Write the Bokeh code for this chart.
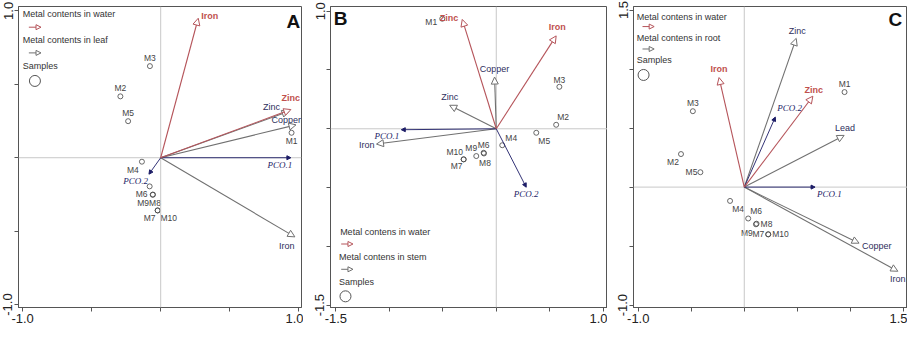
from bokeh.plotting import figure
from bokeh.models import Arrow, NormalHead, ColumnDataSource, Span, FixedTicker, Label
from bokeh.layouts import row
from bokeh.embed import file_html
from bokeh.resources import INLINE
from bokeh.core.properties import value, field

# ------------------------- DATA -------------------------
SAMPLES = ["M1", "M2", "M3", "M4", "M5", "M6", "M7", "M8", "M9", "M10"]
PCO_NAMES = ["PCO.1", "PCO.2"]

# Panel A: water vs leaf
A_WATER_NAMES = ["Iron", "Zinc"]
A_WATER_X = [0.272, 0.943]
A_WATER_Y = [0.95, 0.328]
A_ORGAN_NAMES = ["Zinc", "Copper", "Iron"]
A_ORGAN_X = [0.93, 0.98, 0.972]
A_ORGAN_Y = [0.316, 0.224, -0.539]
A_PCO_X = [0.943, -0.085]
A_PCO_Y = [0.0, -0.112]
A_SAMPLE_X = [0.948, -0.292, -0.078, -0.136, -0.236, -0.08, -0.022, -0.056, -0.058, -0.022]
A_SAMPLE_Y = [0.17, 0.418, 0.624, -0.027, 0.249, -0.195, -0.359, -0.251, -0.252, -0.359]

# Panel B: water vs stem
B_WATER_NAMES = ["Zinc", "Iron"]
B_WATER_X = [-0.318, 0.56]
B_WATER_Y = [0.93, 0.79]
B_ORGAN_NAMES = ["Copper", "Zinc", "Iron"]
B_ORGAN_X = [-0.016, -0.436, -1.12]
B_ORGAN_Y = [0.44, 0.20, -0.13]
B_PCO_X = [-0.888, 0.28]
B_PCO_Y = [-0.008, -0.497]
B_SAMPLE_X = [-0.505, 0.56, 0.59, 0.056, 0.374, -0.118, -0.305, -0.115, -0.187, -0.305]
B_SAMPLE_Y = [0.936, 0.034, 0.357, -0.14, -0.034, -0.204, -0.26, -0.21, -0.232, -0.26]

# Panel C: water vs root
C_WATER_NAMES = ["Iron", "Zinc"]
C_WATER_X = [-0.238, 0.647]
C_WATER_Y = [0.928, 0.77]
C_ORGAN_NAMES = ["Zinc", "Lead", "Copper", "Iron"]
C_ORGAN_X = [0.49, 0.942, 1.083, 1.449]
C_ORGAN_Y = [1.26, 0.438, -0.475, -0.713]
C_PCO_X = [0.668, 0.293]
C_PCO_Y = [0.0, 0.593]
C_SAMPLE_X = [0.946, -0.597, -0.485, -0.134, -0.414, 0.037, 0.226, 0.116, 0.11, 0.226]
C_SAMPLE_Y = [0.805, 0.28, 0.643, -0.117, 0.126, -0.266, -0.40, -0.31, -0.315, -0.40]

# ------------------------- STYLE -------------------------
RED = "#b5545a"
RED_TXT = "#c0504d"
GRAY = "#707070"
NAVY = "#1c1c66"
ORG_TXT = "#2e2e5c"
SMP_TXT = "#444444"
FONT = "Liberation Sans"
SERIF = "Liberation Serif"
LBL_SIZE = "9px"

# label offsets (screen px dx, dy; alignment)
A_WATER_LBL = [(3, -2, "left"), (0, -12, "center")]
A_ORGAN_LBL = [(-9, -4, "right"), (5, -5, "right"), (-8, 9, "center")]
A_PCO_LBL = [(-11, 7, "center"), (-1, 7, "right")]
A_SAMPLE_LBL = [(0, 8, "center"), (0, -8, "center"), (0, -8, "center"), (-9, 8, "center"),
                (0, -8, "center"), (-8, 8, "center"), (-8, 8, "center"), (2, 8, "center"),
                (-9.5, 8, "center"), (11, 8, "center")]

B_WATER_LBL = [(-4, -1, "right"), (1, -9, "center")]
B_ORGAN_LBL = [(0, -8, "center"), (0, -8, "center"), (-2, 1, "right")]
B_PCO_LBL = [(-2, 6, "right"), (0, 7, "center")]
B_SAMPLE_LBL = [(-11, 3, "center"), (7, -8, "center"), (0, -7, "center"), (9, -7, "center"),
                (8, 8, "center"), (0, -8, "center"), (-7, 7, "center"), (1, 10, "center"),
                (-5, -8, "center"), (-9, -7, "center")]

C_WATER_LBL = [(0, -9, "center"), (1, -6, "center")]
C_ORGAN_LBL = [(1, -7, "center"), (1, -7, "center"), (3, 3, "left"), (0, 8, "center")]
C_PCO_LBL = [(2, 7, "left"), (2, -9, "left")]
C_SAMPLE_LBL = [(0, -8, "center"), (-8, 8, "center"), (0, -8, "center"), (8, 8, "center"),
                (-3, 0, "right"), (8, -7, "center"), (-4, 0, "right"), (4, 0, "left"),
                (-9, 9, "center"), (4, 0, "left")]


def add_arrows(p, xs, ys, color, head_size, fill, lw):
    src = ColumnDataSource(dict(x0=[0.0] * len(xs), y0=[0.0] * len(ys), x1=xs, y1=ys))
    p.add_layout(Arrow(end=NormalHead(size=head_size, fill_color=fill, line_color=color, line_width=1),
                       source=src, x_start="x0", y_start="y0", x_end="x1", y_end="y1",
                       line_color=color, line_width=lw))


def add_labels(p, xs, ys, names, offs, color, font, size, style="normal"):
    src = ColumnDataSource(dict(x=xs, y=ys, t=names,
                                dx=[o[0] for o in offs], dy=[o[1] for o in offs],
                                al=[o[2] for o in offs]))
    p.text(x="x", y="y", text="t", source=src, x_offset="dx", y_offset="dy",
           text_align=field("al"), text_baseline="middle", text_color=color,
           text_font=value(font), text_font_size=size, text_font_style=style)


def make_panel(width, xr, yr, xticks, yticks, xlabels, ylabels,
               water, organ, pco, sx, sy, lbls, legend, letter):
    p = figure(width=width, height=325, x_range=xr, y_range=yr, output_backend="svg",
               toolbar_location=None, min_border_top=6, min_border_right=2,
               min_border_left=0, min_border_bottom=0)
    p.grid.visible = False
    p.outline_line_color = "#555555"
    for ax, ticks, labs in ((p.xaxis[0], xticks, xlabels), (p.yaxis[0], yticks, ylabels)):
        ax.ticker = FixedTicker(ticks=ticks)
        ax.major_label_overrides = {t: l for t, l in zip(ticks, labs)}
        ax.major_tick_out = 4
        ax.major_tick_in = 0
        ax.minor_tick_line_color = None
        ax.axis_line_color = "#555555"
        ax.major_tick_line_color = "#555555"
        ax.major_label_text_font = FONT
        ax.major_label_text_font_size = "13px"
        ax.major_label_text_color = "#222222"
        ax.major_label_standoff = 2
    p.yaxis.major_label_orientation = "vertical"

    p.add_layout(Span(location=0, dimension="width", line_color="#c8c8c8", line_width=1))
    p.add_layout(Span(location=0, dimension="height", line_color="#c8c8c8", line_width=1))

    wn, wx, wy = water
    on, ox, oy = organ
    px_, py_ = pco
    add_arrows(p, ox, oy, GRAY, 7, "white", 1.1)
    add_arrows(p, px_, py_, NAVY, 4, NAVY, 0.9)
    add_arrows(p, wx, wy, RED, 7, "white", 1.1)

    p.scatter(sx, sy, size=5, marker="circle", fill_color="white", fill_alpha=0,
              line_color="#444444", line_width=0.8)

    add_labels(p, wx, wy, wn, lbls[0], RED_TXT, FONT, LBL_SIZE, style="bold")
    add_labels(p, ox, oy, on, lbls[1], ORG_TXT, FONT, LBL_SIZE)
    add_labels(p, px_, py_, PCO_NAMES, lbls[2], NAVY, SERIF, LBL_SIZE, style="italic")
    add_labels(p, sx, sy, SAMPLES, lbls[3], SMP_TXT, FONT, "8.5px")

    # hand-drawn legend
    for (txt, lx, ly) in legend["texts"]:
        p.add_layout(Label(x=lx, y=ly, text=txt, text_font=FONT, text_font_size=LBL_SIZE,
                           text_color="#333333", text_baseline="middle"))
    for (c, x0, x1, ly) in legend["arrows"]:
        p.add_layout(Arrow(end=NormalHead(size=5, fill_color="white", line_color=c, line_width=1),
                           x_start=x0, y_start=ly, x_end=x1, y_end=ly, line_color=c, line_width=1))
    cx, cy = legend["circle"]
    p.scatter([cx], [cy], size=11, marker="circle", fill_alpha=0, line_color="#555555", line_width=1)

    t, lx, ly, al = letter
    p.add_layout(Label(x=lx, y=ly, text=t, text_font=FONT, text_font_size="19px",
                       text_font_style="bold", text_color="#111111", text_align=al,
                       text_baseline="middle"))
    return p


def lbls(ticks, keep):
    return [("%.1f" % t) if t in keep else "" for t in ticks]


tA = [-1.0, -0.5, 0.0, 0.5, 1.0]
pA = make_panel(
    303, (-1.03, 1.02), (-1.02, 1.03), tA, tA, lbls(tA, (-1.0, 1.0)), lbls(tA, (-1.0, 1.0)),
    (A_WATER_NAMES, A_WATER_X, A_WATER_Y), (A_ORGAN_NAMES, A_ORGAN_X, A_ORGAN_Y),
    (A_PCO_X, A_PCO_Y), A_SAMPLE_X, A_SAMPLE_Y,
    (A_WATER_LBL, A_ORGAN_LBL, A_PCO_LBL, A_SAMPLE_LBL),
    {"texts": [("Metal contents in water", -1.0, 0.978), ("Metal contents in leaf", -1.0, 0.803),
               ("Samples", -1.0, 0.624)],
     "arrows": [(RED, -0.955, -0.867, 0.889), (GRAY, -0.955, -0.867, 0.714)],
     "circle": (-0.911, 0.523)},
    ("A", 1.01, 0.93, "right"))

tB = [-1.5, -1.0, -0.5, 0.0, 0.5, 1.0]
pB = make_panel(
    304, (-1.55, 1.04), (-1.52, 1.04), tB, tB, lbls(tB, (-1.5, 1.0)), lbls(tB, (-1.5, 1.0)),
    (B_WATER_NAMES, B_WATER_X, B_WATER_Y), (B_ORGAN_NAMES, B_ORGAN_X, B_ORGAN_Y),
    (B_PCO_X, B_PCO_Y), B_SAMPLE_X, B_SAMPLE_Y,
    (B_WATER_LBL, B_ORGAN_LBL, B_PCO_LBL, B_SAMPLE_LBL),
    {"texts": [("Metal contens in water", -1.46, -0.88), ("Metal contens in stem", -1.47, -1.09),
               ("Samples", -1.47, -1.30)],
     "arrows": [(RED, -1.45, -1.34, -0.98), (GRAY, -1.45, -1.34, -1.195)],
     "circle": (-1.41, -1.425)},
    ("B", -1.52, 0.94, "left"))
pB.min_border_left = 27
pB.min_border_right = 0

tC = [-1.0, -0.5, 0.0, 0.5, 1.0, 1.5]
pC = make_panel(
    300, (-1.045, 1.54), (-1.02, 1.53), tC, tC, lbls(tC, (-1.0, 1.5)), lbls(tC, (-1.0, 1.5)),
    (C_WATER_NAMES, C_WATER_X, C_WATER_Y), (C_ORGAN_NAMES, C_ORGAN_X, C_ORGAN_Y),
    (C_PCO_X, C_PCO_Y), C_SAMPLE_X, C_SAMPLE_Y,
    (C_WATER_LBL, C_ORGAN_LBL, C_PCO_LBL, C_SAMPLE_LBL),
    {"texts": [("Metal contens in water", -1.015, 1.44), ("Metal contens in root", -1.015, 1.265),
               ("Samples", -1.015, 1.08)],
     "arrows": [(RED, -0.96, -0.85, 1.36), (GRAY, -0.96, -0.85, 1.17)],
     "circle": (-0.95, 0.95)},
    ("C", 1.49, 1.42, "right"))
pC.min_border_left = 26
pC.min_border_right = 0

layout = row(pA, pB, pC)
open("out.html", "w").write(file_html(layout, INLINE))
